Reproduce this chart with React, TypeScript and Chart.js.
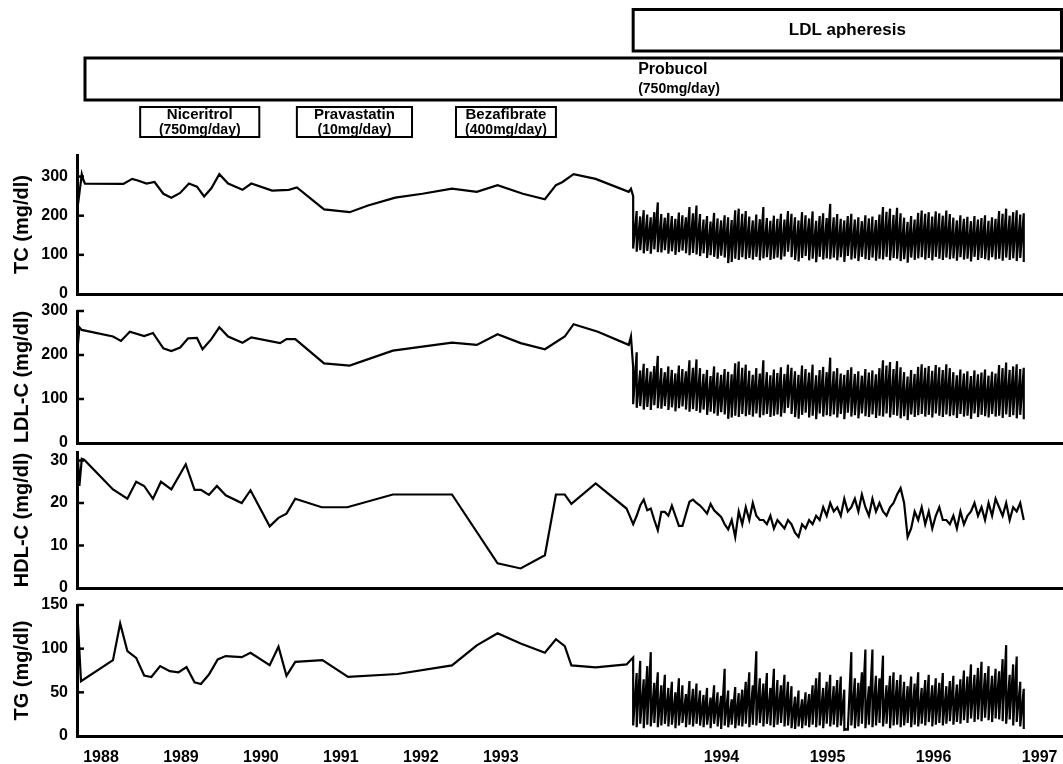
import React, { useEffect, useRef } from 'react';
import { Chart, registerables } from 'chart.js';

Chart.register(...registerables);

const FONT = "'Liberation Sans', Arial, Helvetica, sans-serif";

// ---- x axis: the original figure uses a stretched calendar after 1993 ----
const AXIS_YEARS = [1988, 1993, 1994, 1997];
const AXIS_UNITS = [0, 5, 7.76, 11.74];
const X_START = 1987.7;
const X_END = 1997.22;
const YEAR_TICKS = [1988, 1989, 1990, 1991, 1992, 1993, 1994, 1995, 1996, 1997];

// ---- therapy periods ----
const APH_FIRST = 1993.6;
const APH_LAST = 1996.85;
const PROBUCOL_START = 1987.8;
const DRUG_NAMES = ['Niceritrol', 'Pravastatin', 'Bezafibrate'];
const DRUG_DOSES = ['(750mg/day)', '(10mg/day)', '(400mg/day)'];
const DRUG_START = [1988.49, 1990.45, 1992.44];
const DRUG_END = [1989.98, 1991.89, 1993.25];

// ---- pre-apheresis measurements ----
const TC_YEARS = [1987.7, 1987.76, 1987.78, 1987.8, 1988.28, 1988.39, 1988.46, 1988.57, 1988.67, 1988.78, 1988.88, 1988.99, 1989.1, 1989.2, 1989.29, 1989.38, 1989.48, 1989.59, 1989.77, 1989.88, 1990.14, 1990.35, 1990.45, 1990.79, 1991.11, 1991.34, 1991.68, 1992.02, 1992.39, 1992.7, 1992.96, 1993.1, 1993.2, 1993.25, 1993.28, 1993.33, 1993.43, 1993.58, 1993.59];
const TC_VALUES = [209, 306, 291, 282, 281, 294, 290, 282, 286, 256, 246, 258, 282, 274, 249, 270, 306, 282, 266, 282, 264, 266, 272, 216, 209, 226, 246, 256, 269, 261, 278, 256, 242, 278, 286, 306, 294, 261, 269];

const LDL_YEARS = [1987.7, 1987.73, 1987.76, 1988.15, 1988.25, 1988.36, 1988.54, 1988.65, 1988.78, 1988.88, 1988.99, 1989.09, 1989.2, 1989.27, 1989.38, 1989.48, 1989.59, 1989.77, 1989.88, 1990.24, 1990.32, 1990.43, 1990.79, 1991.11, 1991.65, 1992.39, 1992.7, 1992.96, 1993.09, 1993.2, 1993.29, 1993.33, 1993.44, 1993.58, 1993.59];
const LDL_VALUES = [200, 263, 257, 242, 232, 253, 243, 250, 215, 209, 217, 238, 239, 213, 236, 263, 242, 228, 240, 227, 236, 236, 181, 176, 210, 228, 223, 247, 227, 213, 242, 270, 253, 223, 242];

const HDL_YEARS = [1987.7, 1987.71, 1987.73, 1987.76, 1987.79, 1988.15, 1988.33, 1988.44, 1988.54, 1988.65, 1988.75, 1988.88, 1989.06, 1989.17, 1989.25, 1989.35, 1989.45, 1989.56, 1989.76, 1989.87, 1990.11, 1990.22, 1990.32, 1990.43, 1990.76, 1991.08, 1991.65, 1992.39, 1992.96, 1993.09, 1993.2, 1993.25, 1993.29, 1993.32, 1993.43, 1993.57, 1993.58];
const HDL_VALUES = [18, 31, 24, 30.4, 30.2, 23.2, 21, 25, 24, 21, 25, 23.2, 29.1, 23.1, 23.1, 21.9, 24, 21.8, 20, 23, 14.5, 16.5, 17.5, 21, 19, 19, 22, 22, 5.8, 4.6, 7.7, 22, 22, 19.8, 24.6, 18.7, 17.5];

const TG_YEARS = [1987.7, 1987.75, 1988.15, 1988.24, 1988.33, 1988.44, 1988.54, 1988.63, 1988.74, 1988.86, 1988.97, 1989.07, 1989.17, 1989.25, 1989.35, 1989.46, 1989.56, 1989.76, 1989.87, 1990.11, 1990.22, 1990.32, 1990.43, 1990.77, 1991.09, 1991.71, 1992.39, 1992.7, 1992.96, 1993.09, 1993.2, 1993.25, 1993.29, 1993.32, 1993.43, 1993.57];
const TG_VALUES = [150, 62.7, 86.8, 128.8, 97.2, 89.5, 69.2, 67.6, 80, 74.2, 73, 78.8, 61.5, 59.6, 70.4, 87.7, 91.5, 90.3, 95.3, 81, 102.2, 68.8, 84.9, 86.8, 67.6, 71, 80.8, 103.8, 117.6, 106, 95.3, 110.8, 103, 80.8, 78.5, 82];

// ---- LDL apheresis sessions: before / after each session ----
const TC_PRE = [250, 212, 198, 214, 203, 196, 209, 234,
  204, 195, 207, 199, 192, 208, 201, 196,
  222, 206, 226,
  204, 190, 199, 185, 207, 193, 188, 201,
  196, 189,
  214, 218, 205, 212,
  198, 188, 203, 191, 222, 194, 187, 200, 192, 205, 190,
  212,
  205, 196, 188, 209, 201, 193, 211, 187, 199, 206, 194,
  230, 196,
  204, 192, 188, 199, 205, 190, 196, 186, 201, 193, 198, 189, 203,
  222, 210, 218, 202, 220, 206,
  195, 184, 199, 190, 207,
  213, 205, 209, 198, 211, 206, 200, 213, 204,
  195, 188, 201, 192, 197, 186, 199, 190, 194, 201, 187, 196, 192,
  212, 205, 218, 200, 209, 214, 203, 206];
const TC_POST = [116, 108, 112, 104, 110, 103, 114, 107,
  106, 112, 103, 109, 100, 107, 111, 104,
  99, 105, 101,
  97, 104, 92, 99, 95, 90, 98, 93,
  79, 82,
  90, 87, 94, 89,
  92, 88, 95, 86, 91, 94, 87, 90, 93, 88, 96,
  108,
  94, 87, 83, 92, 97, 86, 90, 81, 95, 88, 91,
  89, 93,
  86, 94, 82, 97, 88, 91, 84, 95, 89, 87, 93, 85, 90,
  88, 95, 86, 92, 90, 84,
  89, 80, 93, 87, 91,
  94, 88, 92, 86, 95, 90, 87, 93, 89,
  91, 85, 94, 88, 90, 83, 95, 87, 92, 89, 86, 94, 88,
  90, 85, 93, 87, 91, 84, 92, 82];

const LDL_PRE = [172, 206, 165, 180, 170, 162, 175, 198,
  170, 161, 174, 166, 158, 176, 168, 163,
  188, 171, 190,
  170, 157, 166, 152, 174, 160, 155, 168,
  162, 156,
  181, 185, 171, 178,
  164, 155, 170, 158, 188, 161, 154, 167, 159, 172, 157,
  178,
  171, 163, 155, 176, 168, 160, 178, 154, 166, 173, 161,
  194, 163,
  170, 158, 155, 166, 172, 157, 163, 153, 168, 160, 165, 156, 170,
  188, 176, 184, 168, 186, 172,
  161, 151, 166, 157, 173,
  179, 171, 175, 164, 177, 172, 166, 179, 170,
  161, 154, 167, 158, 163, 152, 165, 156, 160, 167, 153, 162, 158,
  177, 170, 183, 166, 174, 179, 168, 171];
const LDL_POST = [88, 80, 84, 76, 82, 75, 86, 79,
  78, 84, 75, 81, 72, 79, 83, 76,
  71, 77, 73,
  69, 76, 64, 71, 67, 62, 70, 65,
  55, 58,
  62, 59, 66, 61,
  64, 60, 67, 58, 63, 66, 59, 62, 65, 60, 68,
  80,
  66, 59, 55, 64, 69, 58, 62, 54, 67, 60, 63,
  61, 65,
  58, 66, 54, 69, 60, 63, 56, 67, 61, 59, 65, 57, 62,
  60, 67, 58, 64, 62, 56,
  61, 52, 65, 59, 63,
  66, 60, 64, 58, 67, 62, 59, 65, 61,
  63, 57, 66, 60, 62, 55, 67, 59, 64, 61, 58, 66, 60,
  62, 57, 65, 59, 63, 56, 64, 54];

const HDL_APH = [15, 17, 19.4, 20.8, 18.3, 18.7, 16, 13.6, 17.9, 17.9, 17, 19.4, 17, 14.6, 14.6, 17.5, 20.3, 20.8, 20, 19.4, 18.5, 17.5, 19.8, 18.3, 17.5, 16.7, 15, 13.8, 16, 12,
  18, 15, 19, 16, 20, 17, 16,
  16, 15, 17, 14, 16, 15, 14, 16, 15, 13,
  12, 15, 14, 16,
  15, 17, 16, 19, 17, 20, 18, 19, 17, 21, 18,
  19, 21, 18, 22, 19, 17, 21, 18, 20,
  18, 17, 19, 20,
  22, 23.5, 20, 12,
  14, 18, 16, 19, 15, 18, 14, 17, 19, 16,
  16, 15, 17, 14, 18, 15, 17,
  18, 20, 17, 19, 16, 20, 17, 21,
  19, 17, 20, 16, 19, 18, 20, 16];

const TG_PRE = [90, 72, 86, 65, 80, 96, 61, 73, 58, 70,
  55, 62, 50, 66, 58, 48, 63, 54, 60, 52,
  47, 55, 44, 58, 50, 46, 77, 52, 42, 56, 49, 53,
  62, 73, 58, 97, 66,
  60, 72, 55, 77, 64, 58, 70, 62, 57,
  45, 52, 42, 50, 48,
  58, 66, 73, 55, 62, 70, 57, 64, 68, 53,
  8, 96, 66,
  61, 73, 99, 57, 99, 69, 66, 92, 58, 69, 73, 64, 70,
  62, 57, 68, 60, 73, 55, 64, 70, 58, 66, 61, 72, 57, 63, 69, 59, 65,
  75, 68, 82, 70, 78, 85, 72, 80, 69, 77, 74,
  88, 104, 70, 82, 91, 62, 54];
const TG_POST = [12, 10, 14, 9, 13, 11, 15, 10, 12, 14,
  11, 13, 9, 12, 15, 10, 13, 11, 14, 12,
  10, 13, 9, 14, 11, 8, 12, 10, 13, 9, 12, 11,
  14, 10, 13, 12, 15,
  11, 14, 12, 10, 13, 15, 11, 12, 9,
  8, 11, 9, 12, 10,
  13, 10, 12, 9, 14, 11, 13, 10, 12, 7,
  6, 12, 9,
  11, 14, 9, 13, 10, 12, 15, 11, 14, 9, 12, 13, 10,
  12, 15, 10, 13, 11, 14, 12, 16, 11, 13, 15, 12, 14, 17, 13, 16, 14,
  18, 15, 20, 16, 19, 17, 21, 18, 16, 20, 19,
  17, 14, 19, 12, 16, 11, 8];

function toPos(year: number): number {
  let k = 0;
  while (k < AXIS_YEARS.length - 2 && year > AXIS_YEARS[k + 1]) k++;
  const y0 = AXIS_YEARS[k], y1 = AXIS_YEARS[k + 1];
  const u0 = AXIS_UNITS[k], u1 = AXIS_UNITS[k + 1];
  return u0 + ((year - y0) * (u1 - u0)) / (y1 - y0);
}

function sessionPositions(n: number): number[] {
  const p0 = toPos(APH_FIRST);
  const p1 = toPos(APH_LAST);
  const out: number[] = [];
  for (let i = 0; i < n; i++) out.push(p0 + (i * (p1 - p0)) / (n - 1));
  return out;
}

function sawSeries(years: number[], values: number[], pre: number[], post: number[]) {
  const pts = years.map((y, i) => ({ x: toPos(y), y: values[i] }));
  const pos = sessionPositions(pre.length);
  pos.forEach((p, i) => {
    pts.push({ x: p, y: pre[i] });
    pts.push({ x: p, y: post[i] });
  });
  return pts;
}

function plainSeries(years: number[], values: number[], aph: number[]) {
  const pts = years.map((y, i) => ({ x: toPos(y), y: values[i] }));
  const pos = sessionPositions(aph.length);
  pos.forEach((p, i) => pts.push({ x: p, y: aph[i] }));
  return pts;
}

const PANELS = [
  { title: 'TC (mg/dl)', max: 355, ticks: [0, 100, 200, 300], data: () => sawSeries(TC_YEARS, TC_VALUES, TC_PRE, TC_POST), top: 0, height: 314, padTop: 155, axisH: 20, showX: false, annotate: true },
  { title: 'LDL-C (mg/dl)', max: 300, ticks: [0, 100, 200, 300], data: () => sawSeries(LDL_YEARS, LDL_VALUES, LDL_PRE, LDL_POST), top: 291, height: 172, padTop: 20, axisH: 20, showX: false, annotate: false },
  { title: 'HDL-C (mg/dl)', max: 32, ticks: [0, 10, 20, 30], data: () => plainSeries(HDL_YEARS, HDL_VALUES, HDL_APH), top: 432, height: 176, padTop: 20, axisH: 20, showX: false, annotate: false },
  { title: 'TG (mg/dl)', max: 150, ticks: [0, 50, 100, 150], data: () => sawSeries(TG_YEARS, TG_VALUES, TG_PRE, TG_POST), top: 585, height: 179, padTop: 20, axisH: 28, showX: true, annotate: false },
];

const innerTicks = {
  id: 'innerTicks',
  afterDraw(chart: any) {
    const s = chart.scales.y;
    const ctx = chart.ctx;
    ctx.save();
    ctx.strokeStyle = '#000';
    ctx.lineWidth = 2.5;
    s.ticks.forEach((t: any) => {
      if (t.value === 0) return;
      const y = s.getPixelForValue(t.value);
      ctx.beginPath();
      ctx.moveTo(chart.chartArea.left, y);
      ctx.lineTo(chart.chartArea.left + 7, y);
      ctx.stroke();
    });
    ctx.restore();
  },
};

const therapyBoxes = {
  id: 'therapyBoxes',
  afterDraw(chart: any) {
    const ctx = chart.ctx;
    const xs = chart.scales.x;
    const px = (yr: number) => xs.getPixelForValue(toPos(yr));
    const right = chart.chartArea.right - 1.5;
    ctx.save();
    ctx.strokeStyle = '#000';
    ctx.fillStyle = '#000';
    ctx.lineWidth = 3;
    const aL = px(APH_FIRST);
    ctx.strokeRect(aL, 9.5, right - aL, 41.5);
    ctx.font = `bold 17px ${FONT}`;
    ctx.textAlign = 'center';
    ctx.textBaseline = 'middle';
    ctx.fillText('LDL apheresis', (aL + right) / 2, 30);

    const pL = px(PROBUCOL_START);
    ctx.strokeRect(pL, 58, right - pL, 42);
    ctx.textAlign = 'left';
    ctx.font = `bold 16px ${FONT}`;
    ctx.fillText('Probucol', aL + 5, 70);
    ctx.font = `bold 14px ${FONT}`;
    ctx.fillText('(750mg/day)', aL + 5, 89);

    ctx.lineWidth = 2;
    ctx.textAlign = 'center';
    DRUG_NAMES.forEach((name, i) => {
      const l = px(DRUG_START[i]);
      const r = px(DRUG_END[i]);
      ctx.strokeRect(l, 107, r - l, 30);
      ctx.font = `bold 15px ${FONT}`;
      ctx.fillText(name, (l + r) / 2, 115);
      ctx.font = `bold 14px ${FONT}`;
      ctx.fillText(DRUG_DOSES[i], (l + r) / 2, 130);
    });
    ctx.restore();
  },
};

export default function App() {
  const refs = useRef<(HTMLCanvasElement | null)[]>([]);

  useEffect(() => {
    const charts: Chart[] = [];
    PANELS.forEach((p, idx) => {
      const canvas = refs.current[idx];
      if (!canvas) return;
      const plugins: any[] = [innerTicks];
      if (p.annotate) plugins.push(therapyBoxes);
      const chart = new Chart(canvas, {
        type: 'line',
        data: {
          datasets: [
            {
              data: p.data(),
              borderColor: '#000',
              borderWidth: 2.2,
              pointRadius: 0,
              tension: 0,
              fill: false,
            },
          ],
        },
        options: {
          animation: false,
          responsive: false,
          events: [],
          layout: { padding: { top: p.padTop, left: 0, right: 0, bottom: 0 } },
          plugins: { legend: { display: false }, tooltip: { enabled: false } },
          scales: {
            x: {
              type: 'linear',
              min: toPos(X_START),
              max: toPos(X_END),
              afterBuildTicks: (s: any) => {
                s.ticks = YEAR_TICKS.map((y) => ({ value: toPos(y) }));
              },
              afterFit: (s: any) => {
                s.height = p.axisH;
                s.paddingLeft = 0;
                s.paddingRight = 0;
              },
              grid: { display: false, drawTicks: false },
              border: { display: true, width: 3, color: '#000' },
              ticks: {
                display: p.showX,
                color: '#000',
                autoSkip: false,
                maxRotation: 0,
                padding: 12,
                font: { family: FONT, size: 16, weight: 'bold' },
                callback: (_v: any, i: number) => String(YEAR_TICKS[i]),
              },
            },
            y: {
              type: 'linear',
              min: 0,
              max: p.max,
              afterBuildTicks: (s: any) => {
                s.ticks = p.ticks.map((v) => ({ value: v }));
              },
              afterFit: (s: any) => {
                s.width = 77;
              },
              grid: { display: false, drawTicks: false },
              border: { display: true, width: 3, color: '#000' },
              ticks: {
                color: '#000',
                padding: 9,
                font: { family: FONT, size: 16, weight: 'bold' },
              },
              title: {
                display: true,
                text: p.title,
                color: '#000',
                padding: { top: 10, bottom: 0 },
                font: { family: FONT, size: 20, weight: 'bold' },
              },
            },
          },
        } as any,
        plugins,
      });
      charts.push(chart);
    });
    return () => charts.forEach((c) => c.destroy());
  }, []);

  return (
    <div style={{ position: 'absolute', left: 0, top: 0, width: 1063, height: 764, background: '#fff', overflow: 'hidden' }}>
      {PANELS.map((p, i) => (
        <canvas
          key={i}
          ref={(el) => {
            refs.current[i] = el;
          }}
          width={1063}
          height={p.height}
          style={{ position: 'absolute', left: 0, top: p.top, width: 1063, height: p.height }}
        />
      ))}
    </div>
  );
}
